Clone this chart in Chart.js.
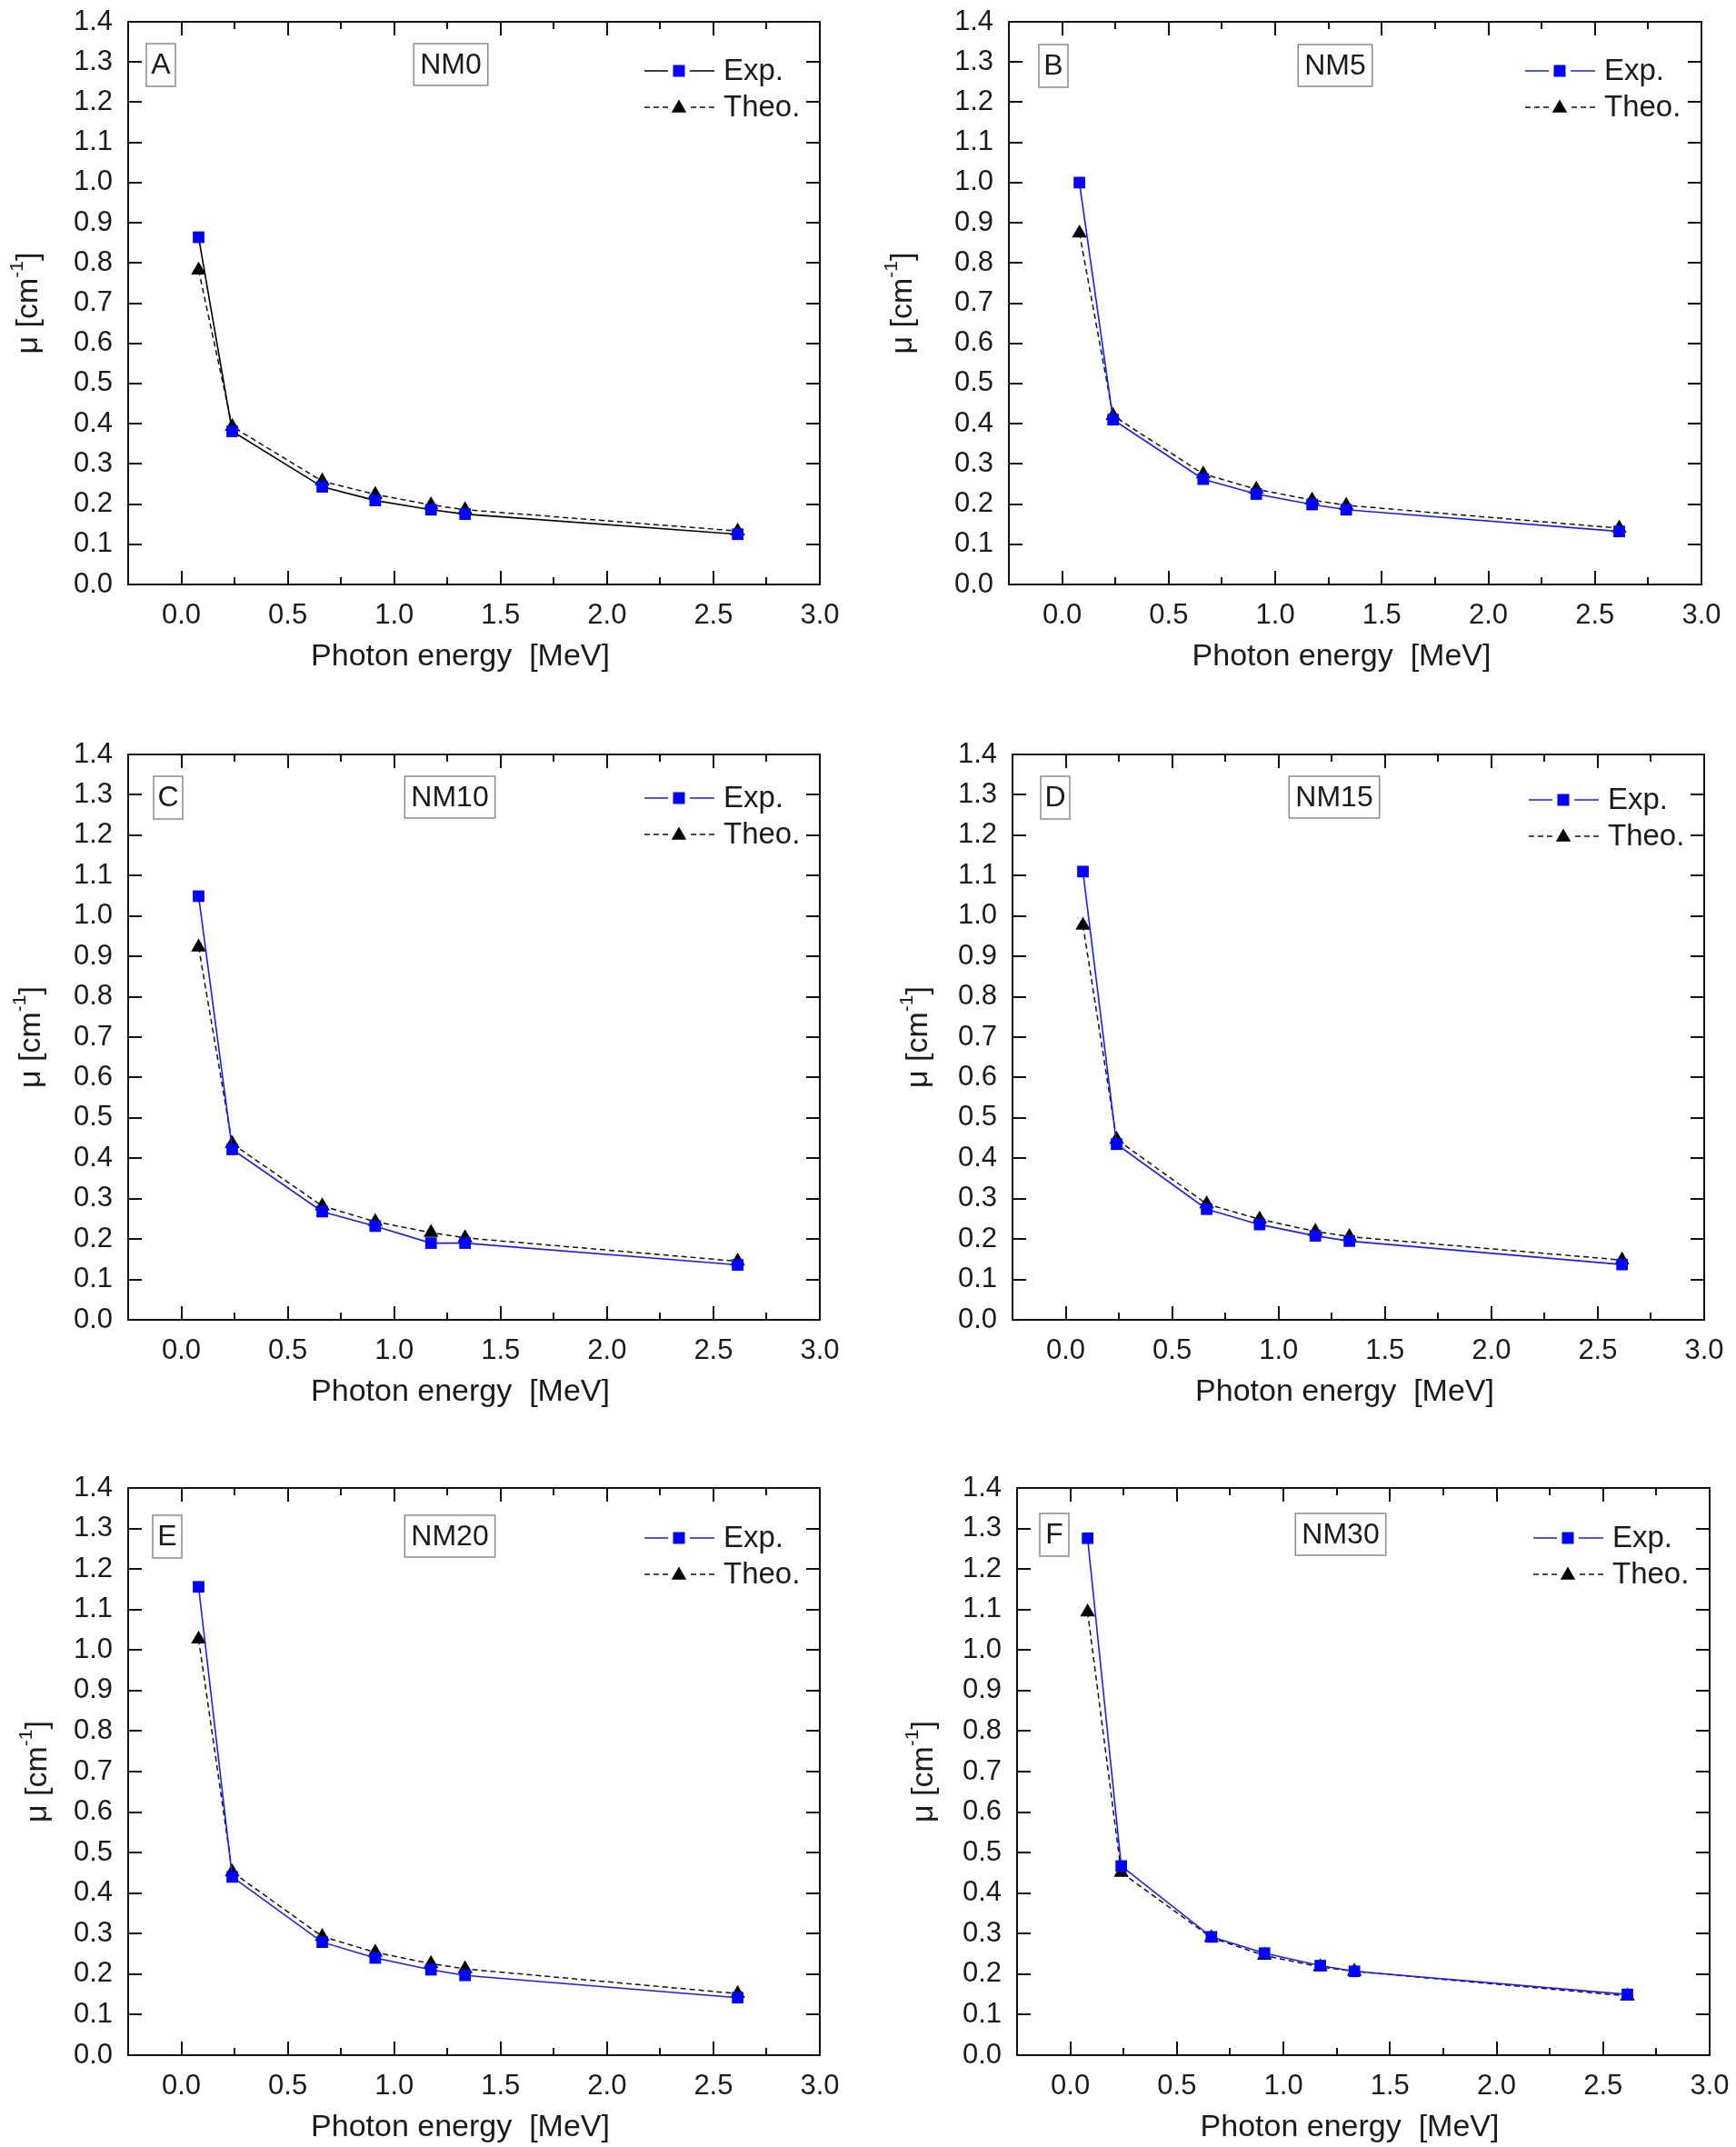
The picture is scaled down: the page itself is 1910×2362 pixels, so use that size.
<!DOCTYPE html>
<html lang="en">
<head>
<meta charset="UTF-8">
<title>Attenuation coefficient vs photon energy</title>
<script src="https://cdn.jsdelivr.net/npm/chart.js"></script>
<style>
  body { margin: 0; background: #fff; width: 1910px; height: 2362px; position: relative; overflow: hidden; }
  canvas { position: absolute; }
</style>
</head>
<body>
<script>
// photon energies (MeV) shared by all panels
const energy = [0.081, 0.239, 0.662, 0.911, 1.173, 1.333, 2.614];

// linear attenuation coefficient mu (cm^-1), experimental and theoretical
const expNM0  = [0.864, 0.381, 0.243, 0.209, 0.186, 0.175, 0.125];
const theoNM0 = [0.782, 0.393, 0.257, 0.224, 0.198, 0.186, 0.133];
const expNM5  = [1.000, 0.410, 0.262, 0.225, 0.199, 0.186, 0.132];
const theoNM5 = [0.874, 0.420, 0.275, 0.237, 0.210, 0.197, 0.140];
const expNM10  = [1.049, 0.422, 0.268, 0.232, 0.190, 0.190, 0.136];
const theoNM10 = [0.923, 0.436, 0.282, 0.243, 0.216, 0.203, 0.145];
const expNM15  = [1.110, 0.435, 0.274, 0.236, 0.208, 0.195, 0.137];
const theoNM15 = [0.977, 0.447, 0.287, 0.249, 0.219, 0.206, 0.148];
const expNM20  = [1.156, 0.440, 0.279, 0.240, 0.211, 0.197, 0.142];
const theoNM20 = [1.027, 0.452, 0.293, 0.254, 0.226, 0.213, 0.152];
const expNM30  = [1.276, 0.467, 0.292, 0.252, 0.221, 0.207, 0.150];
const theoNM30 = [1.094, 0.451, 0.290, 0.246, 0.218, 0.207, 0.146];

const xTicks = [0.0, 0.5, 1.0, 1.5, 2.0, 2.5, 3.0];
const xMinorTicks = [0.25, 0.75, 1.25, 1.75, 2.25, 2.75];
const yTicks = [0.0, 0.1, 0.2, 0.3, 0.4, 0.5, 0.6, 0.7, 0.8, 0.9, 1.0, 1.1, 1.2, 1.3, 1.4];

const FONT = '"Liberation Sans", Arial, sans-serif';
const INK = '#1a1a1a';
const BLUE = '#0000ff';

// frame = [left, top, width, height] of the plot box on the page
const panels = [
  { letter: 'A', name: 'NM0',  exp: expNM0,  theo: theoNM0,  line: '#000000', frame: [141, 24, 761, 619],   titleX: 32, box: [20, 24], nameX: 355, legY: 54 },
  { letter: 'B', name: 'NM5',  exp: expNM5,  theo: theoNM5,  line: '#1a1aff', frame: [1110, 24, 762, 619],  titleX: 25, box: [33, 25], nameX: 359, legY: 54 },
  { letter: 'C', name: 'NM10', exp: expNM10, theo: theoNM10, line: '#1a1aff', frame: [141, 830, 761, 622],  titleX: 35, box: [28, 24], nameX: 354, legY: 48 },
  { letter: 'D', name: 'NM15', exp: expNM15, theo: theoNM15, line: '#1a1aff', frame: [1114, 830, 761, 622], titleX: 38, box: [31, 24], nameX: 354, legY: 50 },
  { letter: 'E', name: 'NM20', exp: expNM20, theo: theoNM20, line: '#1a1aff', frame: [141, 1637, 761, 624], titleX: 42, box: [27, 30], nameX: 354, legY: 55 },
  { letter: 'F', name: 'NM30', exp: expNM30, theo: theoNM30, line: '#1a1aff', frame: [1119, 1637, 762, 624], titleX: 39, box: [25, 28], nameX: 356, legY: 55 }
];

// margins around the plot box inside each canvas (top/right exceed Chart.js label padding)
const LEFT = 141, TOP = 44, RIGHT = 44, BOTTOM = 100;

function textBox(ctx, text, cx, top, h) {
    ctx.font = '32px ' + FONT;
    const w = ctx.measureText(text).width + 14;
    ctx.strokeStyle = '#8a8a8a';
    ctx.lineWidth = 1.5;
    ctx.strokeRect(cx - w / 2, top, w, h);
    ctx.fillStyle = INK;
    ctx.textAlign = 'center';
    ctx.textBaseline = 'middle';
    ctx.fillText(text, cx, top + h / 2 + 1);
}

function square(ctx, x, y, s, color) {
    ctx.fillStyle = color;
    ctx.fillRect(x - s / 2, y - s / 2, s, s);
}

function triangle(ctx, x, y, r, color) {
    ctx.fillStyle = color;
    ctx.beginPath();
    ctx.moveTo(x, y - r);
    ctx.lineTo(x + r * 0.866, y + r / 2);
    ctx.lineTo(x - r * 0.866, y + r / 2);
    ctx.closePath();
    ctx.fill();
}

function makeDecor(p) {
    return {
        id: 'decor' + p.letter,
        afterDraw(chart) {
            const ctx = chart.ctx;
            const a = chart.chartArea;
            const xs = chart.scales.x, ys = chart.scales.y;
            ctx.save();

            // frame
            ctx.strokeStyle = '#111';
            ctx.lineWidth = 2;
            ctx.strokeRect(a.left, a.top, a.right - a.left, a.bottom - a.top);

            // inward ticks on all four sides
            ctx.beginPath();
            xTicks.forEach(v => {
                const px = Math.round(xs.getPixelForValue(v));
                ctx.moveTo(px, a.bottom); ctx.lineTo(px, a.bottom - 15);
                ctx.moveTo(px, a.top); ctx.lineTo(px, a.top + 15);
            });
            xMinorTicks.forEach(v => {
                const px = Math.round(xs.getPixelForValue(v));
                ctx.moveTo(px, a.bottom); ctx.lineTo(px, a.bottom - 8);
                ctx.moveTo(px, a.top); ctx.lineTo(px, a.top + 8);
            });
            yTicks.forEach(v => {
                const py = Math.round(ys.getPixelForValue(v));
                ctx.moveTo(a.left, py); ctx.lineTo(a.left + 15, py);
                ctx.moveTo(a.right, py); ctx.lineTo(a.right - 15, py);
            });
            ctx.stroke();

            // axis titles
            ctx.fillStyle = INK;
            ctx.font = '34px ' + FONT;
            ctx.textAlign = 'center';
            ctx.textBaseline = 'middle';
            ctx.fillText('Photon energy  [MeV]', (a.left + a.right) / 2 - 15, a.bottom + 80);

            ctx.save();
            ctx.translate(p.titleX, (a.top + a.bottom) / 2);
            ctx.rotate(-Math.PI / 2);
            const big = '34px ' + FONT, small = '21px ' + FONT;
            ctx.font = big;
            const w1 = ctx.measureText('\u03bc [cm').width;
            const w3 = ctx.measureText(']').width;
            ctx.font = small;
            const w2 = ctx.measureText('-1').width;
            const tx = -(w1 + w2 + w3) / 2;
            ctx.textAlign = 'left';
            ctx.textBaseline = 'middle';
            ctx.font = big;
            ctx.fillText('\u03bc [cm', tx, 0);
            ctx.font = small;
            ctx.fillText('-1', tx + w1, -13);
            ctx.font = big;
            ctx.fillText(']', tx + w1 + w2, 0);
            ctx.restore();

            // letter and sample boxes
            ctx.font = '32px ' + FONT;
            const lw = 32;
            ctx.strokeStyle = '#8a8a8a';
            ctx.lineWidth = 1.5;
            ctx.strokeRect(a.left + p.box[0], a.top + p.box[1], lw, 47);
            ctx.fillStyle = INK;
            ctx.textAlign = 'center';
            ctx.fillText(p.letter, a.left + p.box[0] + lw / 2, a.top + p.box[1] + 24);
            textBox(ctx, p.name, a.left + p.nameX, a.top + p.box[1], 46);

            // legend
            const lx = a.left + 568, mx = a.left + 606, rx = a.left + 645;
            const y1 = a.top + p.legY, y2 = y1 + 40;
            ctx.lineWidth = 1.6;
            ctx.strokeStyle = p.line;
            ctx.beginPath();
            ctx.moveTo(lx, y1); ctx.lineTo(mx - 12, y1);
            ctx.moveTo(mx + 12, y1); ctx.lineTo(rx, y1);
            ctx.stroke();
            square(ctx, mx, y1, 13, BLUE);
            ctx.strokeStyle = '#111';
            ctx.setLineDash([6, 4]);
            ctx.beginPath();
            ctx.moveTo(lx, y2); ctx.lineTo(mx - 12, y2);
            ctx.moveTo(mx + 13, y2); ctx.lineTo(rx, y2);
            ctx.stroke();
            ctx.setLineDash([]);
            triangle(ctx, mx, y2 + 1, 9.5, '#000');
            ctx.fillStyle = INK;
            ctx.font = '33px ' + FONT;
            ctx.textAlign = 'left';
            ctx.fillText('Exp.', a.left + 655, y1 + 1);
            ctx.fillText('Theo.', a.left + 655, y2 + 1);

            ctx.restore();
        }
    };
}

panels.forEach(p => {
    const [fl, ft, fw, fh] = p.frame;
    const canvas = document.createElement('canvas');
    canvas.width = fw + LEFT + RIGHT;
    canvas.height = fh + TOP + BOTTOM;
    canvas.style.left = (fl - LEFT) + 'px';
    canvas.style.top = (ft - TOP) + 'px';
    document.body.appendChild(canvas);

    new Chart(canvas.getContext('2d'), {
        type: 'line',
        data: {
            datasets: [{
                label: 'Exp.',
                data: energy.map((e, i) => ({ x: e, y: p.exp[i] })),
                borderColor: p.line,
                borderWidth: 1.6,
                pointStyle: 'rect',
                pointRadius: 9,
                pointBackgroundColor: BLUE,
                pointBorderColor: BLUE,
                pointBorderWidth: 0,
                tension: 0,
                fill: false
            }, {
                label: 'Theo.',
                data: energy.map((e, i) => ({ x: e, y: p.theo[i] })),
                borderColor: '#111',
                borderWidth: 1.5,
                borderDash: [6, 4],
                pointStyle: 'triangle',
                pointRadius: 9.5,
                pointBackgroundColor: '#000',
                pointBorderColor: '#000',
                pointBorderWidth: 0,
                tension: 0,
                fill: false
            }]
        },
        options: {
            responsive: false,
            animation: false,
            events: [],
            layout: { padding: { left: 0, top: TOP, right: RIGHT, bottom: 0 } },
            plugins: { legend: { display: false }, tooltip: { enabled: false } },
            scales: {
                x: {
                    type: 'linear',
                    min: -0.25,
                    max: 3.0,
                    afterFit: s => { s.height = BOTTOM; },
                    afterBuildTicks: s => { s.ticks = xTicks.map(v => ({ value: v })); },
                    grid: { display: false, drawTicks: false },
                    border: { display: false },
                    ticks: {
                        autoSkip: false,
                        maxRotation: 0,
                        padding: 16,
                        color: INK,
                        font: { family: FONT, size: 31 },
                        callback: v => v.toFixed(1)
                    }
                },
                y: {
                    min: 0,
                    max: 1.4,
                    afterFit: s => { s.width = LEFT; },
                    afterBuildTicks: s => { s.ticks = yTicks.map(v => ({ value: v })); },
                    grid: { display: false, drawTicks: false },
                    border: { display: false },
                    ticks: {
                        autoSkip: false,
                        padding: 17,
                        color: INK,
                        font: { family: FONT, size: 31 },
                        callback: v => v.toFixed(1)
                    }
                }
            }
        },
        plugins: [makeDecor(p)]
    });
});
</script>
</body>
</html>
